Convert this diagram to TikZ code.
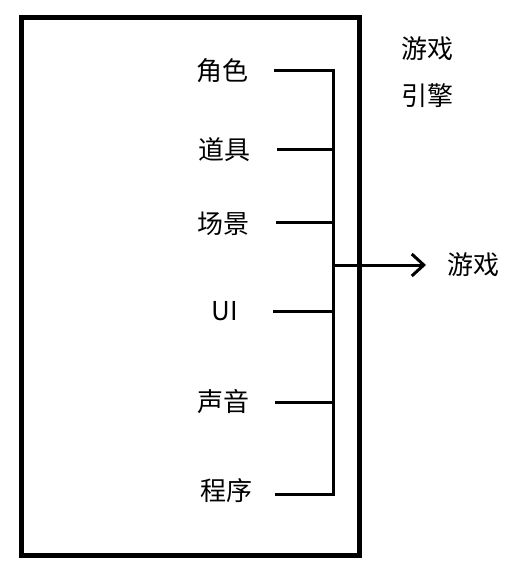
\documentclass[tikz,border=0pt]{standalone}
\usepackage{fontspec}
\newfontfamily\cjk{Noto Sans CJK SC}
\usetikzlibrary{arrows.meta}
\begin{document}
\begin{tikzpicture}[x=1pt,y=-1pt,
  lbl/.style={font=\cjk\fontsize{26}{29}\selectfont, inner sep=0pt},
  conn/.style={line width=3pt},
  frame/.style={line width=5pt}]
\useasboundingbox (0,0) rectangle (515,574);
\fill[white] (0,0) rectangle (515,574);
\draw[frame] (21,17.5) rectangle (359,555);
\node[lbl] (n1) at (222,71) {角色};
\node[lbl] (n2) at (224,150) {道具};
\node[lbl] (n3) at (223,224) {场景};
\node[lbl] (n4) at (225,311) {UI};
\node[lbl] (n5) at (223,402) {声音};
\node[lbl] (n6) at (226,491) {程序};
\node[lbl] (eng) at (427,49) {游戏};
\node[lbl] (eng2) at (427,96) {引擎};
\node[lbl] (game) at (473,265) {游戏};
\coordinate (s1) at (274,70);
\coordinate (s2) at (277,149);
\coordinate (s3) at (276,222);
\coordinate (s4) at (273,311);
\coordinate (s5) at (275,402);
\coordinate (s6) at (275,494);
\coordinate (bt) at (333,70);
\coordinate (bb) at (333,494);
\coordinate (bm) at (333,265);
\coordinate (tip) at (426,265);
\draw[conn] (s1) -- (bt) -- (bb) -- (s6);
\foreach \i in {2,3,4,5} \draw[conn] (s\i) -- (s\i -| bt);
\draw[conn,-{Straight Barb[length=12pt,width=22pt]}] (bm) -- (tip);
\end{tikzpicture}
\end{document}
